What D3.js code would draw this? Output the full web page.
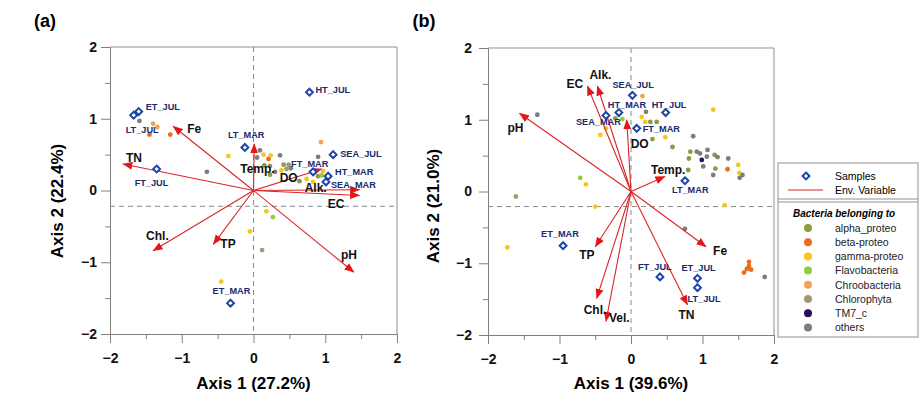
<!DOCTYPE html>
<html><head><meta charset="utf-8">
<script src="https://cdn.jsdelivr.net/npm/d3@7"></script>
<style>
body{margin:0;background:#fff;}
text{font-family:Arial,"Liberation Sans",sans-serif;}
</style></head>
<body><svg id="c" width="922" height="417"></svg>
<script>
// ---------- DATA ----------
const groups = ["alpha_proteo","beta-proteo","gamma-proteo","Flavobacteria","Chroobacteria","Chlorophyta","TM7_c","others"];
const groupColors = ["#8d9a3e","#ec6a1c","#f6c619","#8ccd3a","#f4a24c","#9c9c74","#2b0b5c","#7d7d7d"];
const tickValues = [-2,-1,0,1,2];
const minorTicks = [-1.5,-0.5,0.5,1.5];

// Panel (a)
const envA = [["Fe",-1.12,0.895],["TN",-1.82,0.37],["Chl.",-1.40,-0.84],["TP",-0.56,-0.75],["pH",1.40,-1.14],["EC",1.48,-0.07],["Alk.",1.48,0.01],["DO",0.95,0.30],["Temp.",0.01,0.65]];
const samplesA = [["ET_JUL",-1.60,1.10],["LT_JUL",-1.67,1.05],["FT_JUL",-1.35,0.30],["LT_MAR",-0.12,0.60],["HT_JUL",0.78,1.37],["SEA_JUL",1.11,0.50],["FT_MAR",0.83,0.26],["HT_MAR",1.04,0.20],["SEA_MAR",1.01,0.12],["ET_MAR",-0.32,-1.57]];
const bactA = [
 [-1.59,0.97,"others"],[-1.40,0.93,"Chroobacteria"],[-1.34,0.885,"Chroobacteria"],[-1.45,0.78,"beta-proteo"],[-1.16,0.78,"beta-proteo"],
 [-0.35,0.48,"gamma-proteo"],[-0.65,0.26,"others"],[0.94,0.675,"Chroobacteria"],[0.09,0.56,"others"],[0.05,0.46,"others"],
 [0.14,0.50,"gamma-proteo"],[0.21,0.44,"beta-proteo"],[0.24,0.49,"gamma-proteo"],[0.37,0.49,"others"],[0.90,0.47,"others"],
 [0.15,0.35,"alpha_proteo"],[0.23,0.34,"alpha_proteo"],[0.42,0.36,"alpha_proteo"],[0.49,0.36,"Chlorophyta"],[0.52,0.31,"others"],
 [0.46,0.30,"Chlorophyta"],[0.39,0.28,"gamma-proteo"],[0.23,0.22,"alpha_proteo"],[0.30,0.26,"others"],[0.90,0.20,"alpha_proteo"],
 [0.95,0.21,"Flavobacteria"],[0.97,0.27,"gamma-proteo"],[0.74,0.16,"gamma-proteo"],[0.83,0.12,"gamma-proteo"],[0.64,0.13,"alpha_proteo"],
 [-0.05,-0.57,"gamma-proteo"],[-0.45,-1.27,"gamma-proteo"],[0.18,-0.29,"gamma-proteo"],[0.27,-0.37,"Flavobacteria"],[0.12,-0.83,"Chlorophyta"]
];
const refLinesA = [0,-0.22]; // x, y of dashed lines

// Panel (b)
const envB = [["pH",-1.56,1.09],["EC",-0.61,1.47],["Alk.",-0.47,1.47],["DO",-0.06,1.0],["Temp.",0.475,0.21],["Fe",1.05,-0.77],["TN",0.79,-1.58],["TP",-0.50,-0.77],["Chl.",-0.48,-1.49],["Vel.",-0.35,-1.81]];
const samplesB = [["SEA_JUL",0.02,1.34],["HT_MAR",-0.17,1.10],["SEA_MAR",-0.35,1.06],["FT_MAR",0.08,0.88],["HT_JUL",0.485,1.10],["LT_MAR",0.755,0.15],["ET_MAR",-0.95,-0.755],["FT_JUL",0.405,-1.19],["ET_JUL",0.93,-1.21],["LT_JUL",0.93,-1.34]];
const bactB = [
 [-1.31,1.07,"others"],[-0.22,1.02,"alpha_proteo"],[-0.12,1.01,"Flavobacteria"],[-0.35,0.88,"gamma-proteo"],[-0.43,0.79,"gamma-proteo"],
 [-0.71,0.19,"Flavobacteria"],[-0.63,0.10,"gamma-proteo"],[0.16,1.33,"Chroobacteria"],[0.21,1.11,"others"],[0.15,1.04,"gamma-proteo"],
 [0.20,0.97,"gamma-proteo"],[0.27,0.97,"alpha_proteo"],[0.36,0.97,"alpha_proteo"],[1.15,1.14,"gamma-proteo"],[0.48,0.755,"gamma-proteo"],
 [0.30,0.73,"alpha_proteo"],[0.87,0.77,"others"],[0.58,0.62,"alpha_proteo"],[0.83,0.555,"alpha_proteo"],[0.81,0.46,"alpha_proteo"],
 [0.92,0.555,"others"],[0.965,0.53,"others"],[1.07,0.58,"others"],[0.99,0.44,"TM7_c"],[1.06,0.485,"others"],
 [1.17,0.51,"alpha_proteo"],[1.21,0.48,"others"],[1.36,0.46,"others"],[1.50,0.37,"gamma-proteo"],[1.35,0.31,"beta-proteo"],
 [1.18,0.32,"alpha_proteo"],[1.01,0.35,"others"],[0.80,0.30,"alpha_proteo"],[1.515,0.26,"gamma-proteo"],[1.56,0.23,"others"],
 [1.52,0.19,"others"],[1.15,0.23,"others"],[-1.61,-0.07,"Chlorophyta"],[-0.50,-0.21,"gamma-proteo"],[-1.73,-0.78,"gamma-proteo"],
 [1.31,-0.19,"gamma-proteo"],[0.755,-0.52,"others"],[1.65,-0.98,"beta-proteo"],[1.65,-1.04,"beta-proteo"],[1.62,-1.08,"beta-proteo"],
 [1.68,-1.09,"beta-proteo"],[1.58,-1.13,"beta-proteo"],[1.87,-1.19,"others"]
];
const refLinesB = [0,-0.21];

// label offsets in pixels (dx, dy from mark to text start/baseline)
const envLabelOffA = {"Fe":[14,7],"TN":[3,-2],"Chl.":[-7,-11],"TP":[7,4],"pH":[-13,-13],"EC":[-32,12],"Alk.":[-55,2],"DO":[-42,13],"Temp.":[-14,29]};
const sampleLabelOffA = {"ET_JUL":[7,-2],"LT_JUL":[-8,18],"FT_JUL":[-22,17],"LT_MAR":[-17,-9],"HT_JUL":[6,1],"SEA_JUL":[7,2],"FT_MAR":[-22,-5],"HT_MAR":[7,-1],"SEA_MAR":[5,6],"ET_MAR":[-18,-9]};
const envLabelOffB = {"pH":[-12,19],"EC":[-21,2],"Alk.":[-8,-7],"DO":[4,28],"Temp.":[-14,-2],"Fe":[7,8],"TN":[-9,14],"TP":[-16,12],"Chl.":[-13,16],"Vel.":[3,1]};
const sampleLabelOffB = {"SEA_JUL":[-20,-7],"HT_MAR":[-11,-5],"SEA_MAR":[-30,10],"FT_MAR":[6,4],"HT_JUL":[-14,-5],"LT_MAR":[-13,12],"ET_MAR":[-22,-9],"FT_JUL":[-22,-7],"ET_JUL":[-16,-7],"LT_JUL":[-10,14]};

// ---------- DRAW ----------
const svg = d3.select("#c");
const color = d3.scaleOrdinal(groups, groupColors);
const RED = "#d9262a", NAVY = "#1b2a6e", BLUE = "#1f45a8";

const defs = svg.append("defs");
defs.append("marker").attr("id","ah").attr("viewBox","0 -4.5 10 9").attr("refX",9.5).attr("refY",0)
  .attr("markerWidth",10).attr("markerHeight",9).attr("markerUnits","userSpaceOnUse").attr("orient","auto")
  .append("path").attr("d","M0,-4L10,0L0,4Z").attr("fill","#e3161b");

const diamond = d3.symbol().type(d3.symbolDiamond2).size(30);

function panel(cfg){
  const {x,y,env,samples,bact,ref,envOff,sampOff,label,xTitle,yTitle,yTitleX,yTitleY,ypad} = cfg;
  const g = svg.append("g");
  const [x0,x1] = x.range(), [y0,y1] = y.range();
  g.append("path").attr("d",`M${x0},${y1}H${x1}V${y0}`).attr("fill","none").attr("stroke","#8f8f8f").attr("stroke-width",1);
  g.append("g").attr("transform",`translate(0,${y0})`)
    .call(d3.axisBottom(x).tickValues(tickValues).tickSize(9).tickSizeOuter(0).tickPadding(10).tickFormat(d3.format("d")));
  g.append("g").attr("transform",`translate(0,${y0})`).call(d3.axisBottom(x).tickValues(minorTicks).tickSize(5).tickSizeOuter(0).tickFormat(""));
  g.append("g").attr("transform",`translate(${x0},0)`)
    .call(d3.axisLeft(y).tickValues(tickValues).tickSize(9).tickSizeOuter(0).tickPadding(ypad).tickFormat(d3.format("d")));
  g.append("g").attr("transform",`translate(${x0},0)`).call(d3.axisLeft(y).tickValues(minorTicks).tickSize(5).tickSizeOuter(0).tickFormat(""));
  g.selectAll(".domain").attr("stroke","#808080");
  g.selectAll(".tick line").attr("stroke","#808080");
  g.selectAll(".tick text").attr("font-size",14).attr("font-weight","bold").attr("fill","#111")
    .style("font-family","Arial, 'Liberation Sans', sans-serif");
  g.append("text").attr("x",(x0+x1)/2).attr("y",389).attr("text-anchor","middle").attr("font-size",17).attr("font-weight","bold").text(xTitle);
  g.append("text").attr("transform",`translate(${yTitleX},${yTitleY}) rotate(-90)`).attr("text-anchor","middle").attr("font-size",17).attr("font-weight","bold").text(yTitle);
  g.append("text").attr("x",label[1]).attr("y",27).attr("text-anchor","middle").attr("font-size",18).attr("font-weight","bold").text(label[0]);
  g.append("line").attr("x1",x(ref[0])).attr("x2",x(ref[0])).attr("y1",y1).attr("y2",y0).attr("stroke","#8a8a8a").attr("stroke-dasharray","5,4").attr("stroke-width",1);
  g.append("line").attr("x1",x0).attr("x2",x1).attr("y1",y(ref[1])).attr("y2",y(ref[1])).attr("stroke","#8a8a8a").attr("stroke-dasharray","5,4").attr("stroke-width",1);
  g.selectAll(".bd").data(bact).join("circle").attr("cx",d=>x(d[0])).attr("cy",d=>y(d[1])).attr("r",2.4).attr("fill",d=>color(d[2]));
  g.selectAll(".ar").data(env).join("line").attr("x1",x(0)).attr("y1",y(0)).attr("x2",d=>x(d[1])).attr("y2",d=>y(d[2]))
    .attr("stroke",RED).attr("stroke-width",1.1).attr("marker-end","url(#ah)");
  g.selectAll(".al").data(env).join("text").attr("x",d=>x(d[1])+envOff[d[0]][0]).attr("y",d=>y(d[2])+envOff[d[0]][1])
    .attr("font-size",12).attr("font-weight","bold").attr("fill","#111").text(d=>d[0]);
  g.selectAll(".sm").data(samples).join("path").attr("d",diamond).attr("transform",d=>`translate(${x(d[1])},${y(d[2])})`)
    .attr("fill","#fff").attr("stroke",BLUE).attr("stroke-width",2);
  g.selectAll(".sl").data(samples).join("text").attr("x",d=>x(d[1])+sampOff[d[0]][0]).attr("y",d=>y(d[2])+sampOff[d[0]][1])
    .attr("font-size",9.2).attr("font-weight","bold").attr("fill",NAVY).text(d=>d[0]);
}

panel({x:d3.scaleLinear([-2,2],[110,397]), y:d3.scaleLinear([-2,2],[334,47]), env:envA, samples:samplesA, bact:bactA, ref:refLinesA,
  envOff:envLabelOffA, sampOff:sampleLabelOffA, label:["(a)",45], xTitle:"Axis 1 (27.2%)", yTitle:"Axis 2 (22.4%)", yTitleX:63, yTitleY:201, ypad:4});
panel({x:d3.scaleLinear([-2,2],[488,774]), y:d3.scaleLinear([-2,2],[335,48]), env:envB, samples:samplesB, bact:bactB, ref:refLinesB,
  envOff:envLabelOffB, sampOff:sampleLabelOffB, label:["(b)",424], xTitle:"Axis 1 (39.6%)", yTitle:"Axis 2 (21.0%)", yTitleX:439, yTitleY:206, ypad:7});

// ---------- LEGEND ----------
const lg = svg.append("g");
const LX0 = 778, LX1 = 918, LY0 = 163, LY1 = 337;
lg.append("rect").attr("x",LX0).attr("y",LY0).attr("width",LX1-LX0).attr("height",LY1-LY0).attr("fill","#fff").attr("stroke","#8f8f8f");
lg.append("line").attr("x1",LX0).attr("x2",LX1).attr("y1",199).attr("y2",199).attr("stroke","#8f8f8f");
lg.append("line").attr("x1",LX0).attr("x2",LX1).attr("y1",202).attr("y2",202).attr("stroke","#8f8f8f");
lg.append("path").attr("d",diamond).attr("transform","translate(806,176)").attr("fill","#fff").attr("stroke",BLUE).attr("stroke-width",2);
lg.append("text").attr("x",835).attr("y",180).attr("font-size",10.5).text("Samples");
lg.append("line").attr("x1",788).attr("x2",823).attr("y1",190).attr("y2",190).attr("stroke",RED).attr("stroke-width",1.2);
lg.append("text").attr("x",835).attr("y",194).attr("font-size",10.5).text("Env. Variable");
lg.append("text").attr("x",793).attr("y",217).attr("font-size",10).attr("font-weight","bold").attr("font-style","italic").text("Bacteria belonging to");
lg.selectAll(".li").data(groups).join("g").attr("transform",(d,i)=>`translate(0,${228+i*14.2})`).each(function(d){
  const s = d3.select(this);
  s.append("circle").attr("cx",808).attr("cy",0).attr("r",4).attr("fill",color(d));
  s.append("text").attr("x",835).attr("y",3.8).attr("font-size",10.5).attr("fill","#222").text(d);
});
</script></body></html>
